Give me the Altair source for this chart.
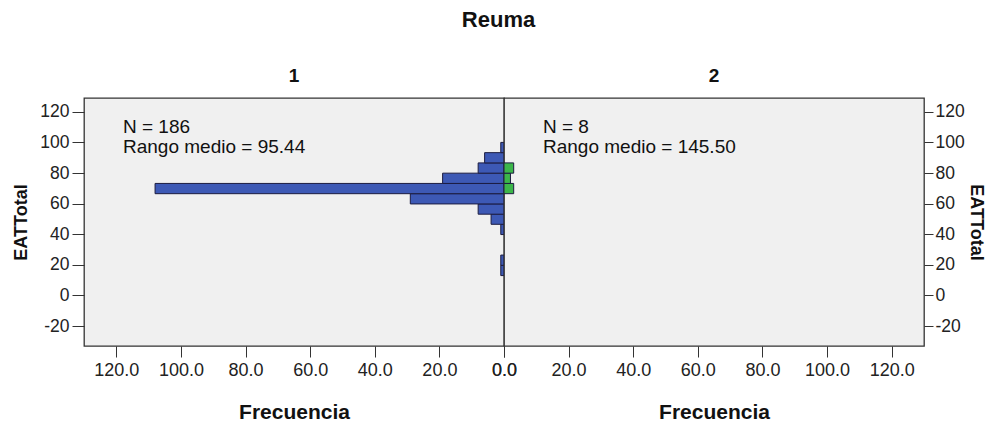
import altair as alt
import pandas as pd

# ---- data ----
bin_lo = [13.0, 19.7, 26.4, 33.1, 39.8, 46.5, 53.1, 59.8, 66.5, 73.2, 79.9, 86.6, 93.3]
bin_w = 6.7
count_g1 = [1, 1, 0, 0, 1, 4, 8, 29, 108, 19, 8, 6, 1]
count_g2 = [0, 0, 0, 0, 0, 0, 0, 0, 3, 2, 3, 0, 0]
groups = ["1", "2"]
n_values = [186, 8]
mean_rank = ["95.44", "145.50"]
y_ticks = [-20, 0, 20, 40, 60, 80, 100, 120]
x_ticks = [0, 20, 40, 60, 80, 100, 120]

FONT = "Liberation Sans"
BLUE = "#3d59b5"
GREEN = "#3cb64a"
EDGE = "#1c1c40"

def hist_df(counts):
    df = pd.DataFrame({"lo": bin_lo, "count": counts})
    df["hi"] = df["lo"] + bin_w
    return df[df["count"] > 0]

y_scale = alt.Scale(domain=[-33, 129], nice=False, zero=False)

def panel(counts, color, idx, side):
    reverse = side == "left"
    x_scale = alt.Scale(domain=[0, 130], nice=False, reverse=reverse)
    x_axis = alt.Axis(values=x_ticks, format=".1f", title="Frecuencia",
                      tickSize=11, labelPadding=4, titlePadding=22,
                      labelFontSize=18, titleFontSize=21, grid=False,
                      domain=False, labelFlush=False)
    y_axis = alt.Axis(values=y_ticks, title="EATTotal",
                      labelExpr="datum.value + ''",
                      orient=side,
                      tickSize=12 if side == "left" else 9,
                      labelPadding=3 if side == "left" else 2,
                      titlePadding=9 if side == "left" else 2,
                      labelFontSize=17.5, titleFontSize=18, grid=False,
                      domain=False, labelFlush=False)
    bars = alt.Chart(hist_df(counts)).mark_bar(
        color=color, stroke=EDGE, strokeWidth=1, opacity=1
    ).encode(
        x=alt.X("count:Q", scale=x_scale, axis=x_axis),
        x2=alt.datum(0),
        y=alt.Y("lo:Q", scale=y_scale, axis=y_axis),
        y2="hi:Q",
    )
    info = pd.DataFrame({"n": [n_values[idx]], "r": [mean_rank[idx]]})
    t1 = alt.Chart(info).mark_text(
        align="left", baseline="alphabetic", fontSize=19, font=FONT, color="#111"
    ).encode(x=alt.value(39), y=alt.value(35), text=alt.value(f"N = {n_values[idx]}"))
    t2 = alt.Chart(info).mark_text(
        align="left", baseline="alphabetic", fontSize=19, font=FONT, color="#111"
    ).encode(x=alt.value(39), y=alt.value(55),
             text=alt.value(f"Rango medio = {mean_rank[idx]}"))
    return alt.layer(bars, t1, t2).properties(
        width=420, height=248,
        title=alt.TitleParams(groups[idx], fontSize=19, fontWeight="bold",
                              font=FONT, offset=12, anchor="middle"),
    )

left = panel(count_g1, BLUE, 0, "left")
right = panel(count_g2, GREEN, 1, "right")

chart = alt.hconcat(left, right, spacing=0, bounds="flush").properties(
    title=alt.TitleParams("Reuma", fontSize=22, fontWeight="bold", font=FONT,
                          anchor="middle", offset=34),
    padding={"left": 4, "top": 1, "right": 0, "bottom": 0},
).configure(
    font=FONT,
    background="white",
).configure_view(
    fill="#f0f0f0", stroke="#333333", strokeWidth=1.3,
).configure_axis(
    labelFont=FONT, titleFont=FONT, labelColor="#222", titleColor="#111",
    tickColor="#333", titleFontWeight="bold",
).configure_title(color="#111")

chart.save("out.html", embed_options={"renderer": "svg", "actions": False})
